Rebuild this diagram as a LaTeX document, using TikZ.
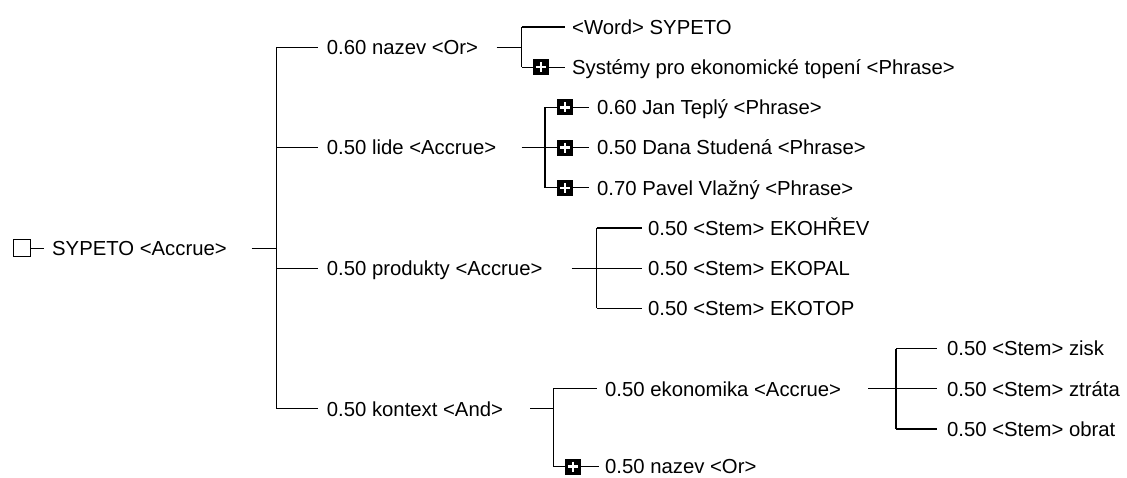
\documentclass[tikz,border=0pt]{standalone}
\usepackage{fontspec}
\setmainfont{Liberation Sans}
\begin{document}
\begin{tikzpicture}[x=1pt,y=-1pt,
  lbl/.style={anchor=base west,inner sep=0pt,font=\fontsize{20.3}{24}\selectfont},
  conn/.style={line width=1.1pt},
  plusbox/.style={fill=black,minimum size=16pt,inner sep=0pt,
    path picture={\draw[white,line width=2.4pt]
      ([xshift=3pt]path picture bounding box.west) -- ([xshift=-3pt]path picture bounding box.east)
      ([yshift=-3pt]path picture bounding box.north) -- ([yshift=3pt]path picture bounding box.south);}},
  rootbox/.style={draw,line width=1.1pt,fill=white,minimum size=17pt,inner sep=0pt}]
\useasboundingbox[fill=white] (0,0) rectangle (1127,477);
% row positions
\def\ya{27}\def\yb{47.1}\def\yc{67.2}\def\yd{107.4}\def\ye{147.6}\def\yf{187.8}
\def\yg{228}\def\yh{248.1}\def\yi{268.2}\def\yj{308.4}\def\yk{348.6}\def\yl{388.8}
\def\ym{408.9}\def\yn{429}\def\yo{466.5}
\def\bs{7.3}
% root
\node[rootbox] (rb) at (22,\yh) {};
\node[lbl] (root) at (52,\yh+\bs) {SYPETO <Accrue>};
\draw[conn] (rb.east) -- (44,\yh);
\coordinate (rootout) at (251.7,\yh);
\coordinate (v0) at (276.7,\yh);
\coordinate (v0t) at (276.7,\yb);
\coordinate (v0b) at (276.7,\ym);
\draw[conn] (rootout) -- (v0);
\draw[conn] (v0t) -- (v0b);
% level 1
\node[lbl] (nazev) at (326.7,\yb+\bs) {0.60 nazev <Or>};
\node[lbl] (lide) at (326.7,\ye+\bs) {0.50 lide <Accrue>};
\node[lbl] (produkty) at (326.7,\yi+\bs) {0.50 produkty <Accrue>};
\node[lbl] (kontext) at (326.7,\ym+\bs) {0.50 kontext <And>};
\foreach \yy in {\yb,\ye,\yi,\ym} \draw[conn] (276.7,\yy) -- (318,\yy);
% nazev children
\coordinate (nazout) at (496.7,\yb);
\coordinate (v1) at (521.7,\yb);
\draw[conn] (nazout) -- (v1);
\draw[conn] (521.7,\ya) -- (521.7,\yc);
\node[lbl] (word) at (572,\ya+\bs) {<Word> SYPETO};
\draw[conn] (521.7,\ya) -- (565,\ya);
\node[plusbox] (pb1) at (541,\yc) {};
\node[lbl] (systemy) at (572,\yc+\bs) {Systémy pro ekonomické topení <Phrase>};
\draw[conn] (521.7,\yc) -- (pb1.west);
\draw[conn] (pb1.east) -- (565,\yc);
% lide children
\coordinate (lideout) at (521.7,\ye);
\draw[conn] (lideout) -- (545,\ye);
\draw[conn] (545,\yd) -- (545,\yf);
\node[plusbox] (pb2) at (565,\yd) {};
\node[plusbox] (pb3) at (565,\ye) {};
\node[plusbox] (pb4) at (565,\yf) {};
\node[lbl] (jan) at (597,\yd+\bs) {0.60 Jan Teplý <Phrase>};
\node[lbl] (dana) at (597,\ye+\bs) {0.50 Dana Studená <Phrase>};
\node[lbl] (pavel) at (597,\yf+\bs) {0.70 Pavel Vlažný <Phrase>};
\foreach \p in {pb2,pb3,pb4} {
  \draw[conn] (\p.west) -- ++(-12,0);
  \draw[conn] (\p.east) -- ++(16,0);
}
% produkty children
\coordinate (prodout) at (571.7,\yi);
\draw[conn] (prodout) -- (596.7,\yi);
\draw[conn] (596.7,\yg) -- (596.7,\yj);
\node[lbl] (ekoh) at (648,\yg+\bs) {0.50 <Stem> EKOHŘEV};
\node[lbl] (ekop) at (648,\yi+\bs) {0.50 <Stem> EKOPAL};
\node[lbl] (ekot) at (648,\yj+\bs) {0.50 <Stem> EKOTOP};
\foreach \yy in {\yg,\yi,\yj} \draw[conn] (596.7,\yy) -- (641.7,\yy);
% kontext children
\coordinate (kontout) at (530,\ym);
\draw[conn] (kontout) -- (553.3,\ym);
\draw[conn] (553.3,\yl) -- (553.3,\yo);
\node[lbl] (ekon) at (605,\yl+\bs) {0.50 ekonomika <Accrue>};
\draw[conn] (553.3,\yl) -- (596.7,\yl);
\node[plusbox] (pb5) at (573,\yo) {};
\node[lbl] (nazev2) at (605,\yo+\bs) {0.50 nazev <Or>};
\draw[conn] (553.3,\yo) -- (pb5.west);
\draw[conn] (pb5.east) -- (599,\yo);
% ekonomika children
\coordinate (ekonout) at (868,\yl);
\draw[conn] (ekonout) -- (896,\yl);
\draw[conn] (896,\yk) -- (896,\yn);
\node[lbl] (zisk) at (947,\yk+\bs) {0.50 <Stem> zisk};
\node[lbl] (ztrata) at (947,\yl+\bs) {0.50 <Stem> ztráta};
\node[lbl] (obrat) at (947,\yn+\bs) {0.50 <Stem> obrat};
\foreach \yy in {\yk,\yl,\yn} \draw[conn] (896,\yy) -- (937,\yy);
\end{tikzpicture}
\end{document}
